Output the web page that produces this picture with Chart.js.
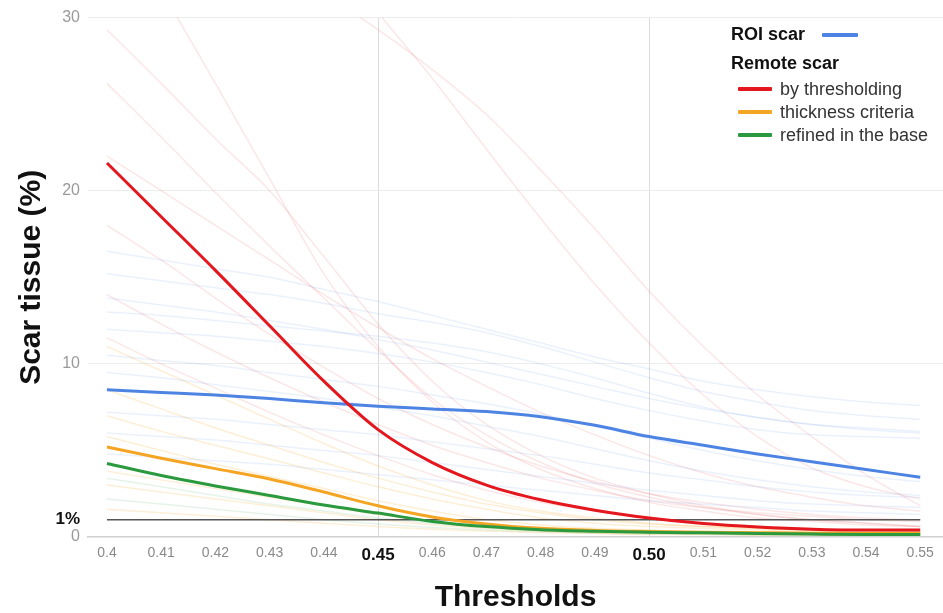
<!DOCTYPE html>
<html>
<head>
<meta charset="utf-8">
<script src="https://cdn.jsdelivr.net/npm/chart.js@4/dist/chart.umd.min.js"></script>
<style>
  html, body { margin: 0; padding: 0; background: #fff; }
  #wrap { position: relative; width: 943px; height: 613px; }
  #legend { position: absolute; left: 0; top: 0; width: 943px; height: 160px; pointer-events: none;
    font-family: "Liberation Sans", Arial, Helvetica, sans-serif; color: #222; }
  .lg { position: absolute; white-space: nowrap; line-height: 20px; height: 20px; }
  .hdr { font-weight: bold; font-size: 18px; color: #111; }
  .itm { font-size: 18px; color: #333; }
  .sw { position: absolute; height: 4px; border-radius: 1px; }
</style>
</head>
<body>
<div id="wrap">
  <canvas id="c" width="943" height="613"></canvas>
  <div id="legend"></div>
</div>
<script>
// ---------- data ----------
const thresholds = [0.40, 0.41, 0.42, 0.43, 0.44, 0.45, 0.46, 0.47, 0.48, 0.49, 0.50, 0.51, 0.52, 0.53, 0.54, 0.55];
const xTickLabels = ['0.4', '0.41', '0.42', '0.43', '0.44', '0.45', '0.46', '0.47', '0.48', '0.49', '0.50', '0.51', '0.52', '0.53', '0.54', '0.55'];
const yTickValues = [0, 1, 10, 20, 30];
const yTickLabels = ['0', '1%', '10', '20', '30'];

// mean curves
const roiScar        = [8.5, 8.35, 8.2, 8.0, 7.75, 7.55, 7.4, 7.25, 6.95, 6.45, 5.8, 5.3, 4.8, 4.35, 3.9, 3.45];
const byThresholding = [21.6, 18.5, 15.4, 12.2, 9.0, 6.2, 4.3, 3.0, 2.15, 1.55, 1.1, 0.78, 0.58, 0.45, 0.4, 0.4];
const thicknessCrit  = [5.2, 4.55, 3.95, 3.35, 2.6, 1.8, 1.15, 0.75, 0.5, 0.38, 0.32, 0.28, 0.25, 0.22, 0.2, 0.2];
const refinedBase    = [4.25, 3.55, 2.95, 2.4, 1.85, 1.38, 0.9, 0.6, 0.42, 0.33, 0.28, 0.24, 0.2, 0.17, 0.15, 0.15];
const onePercent     = [1, 1, 1, 1, 1, 1, 1, 1, 1, 1, 1, 1, 1, 1, 1, 1];

// individual (faint) curves
const patientsThresholding = [
  [29.3, 26.2, 23.0, 20.0, 16.2, 12.3, 9.0, 6.5, 4.7, 3.4, 2.5, 1.8, 1.3, 1.0, 0.8, 0.6],
  [26.2, 23.1, 19.9, 16.8, 13.8, 10.8, 8.0, 5.9, 4.3, 3.1, 2.3, 1.7, 1.3, 1.0, 0.8, 0.6],
  [37, 31.6, 26.2, 20.7, 15.2, 11.0, 7.8, 5.5, 3.9, 2.8, 2.0, 1.5, 1.1, 0.9, 0.7, 0.6],
  [56, 50, 44, 39, 34.5, 30.3, 26.5, 22.4, 18.4, 14.6, 11.2, 8.2, 5.8, 4.0, 2.9, 2.2],
  [40, 37.5, 35.5, 33.4, 31.4, 29.3, 27.0, 24.4, 21.2, 17.8, 14.2, 11.0, 8.2, 5.8, 3.6, 1.8],
  [18, 16, 13.8, 11.7, 9.8, 8.0, 6.5, 5.2, 4.1, 3.2, 2.5, 2.0, 1.6, 1.3, 1.1, 1.0],
  [14, 12.3, 10.7, 9.2, 7.8, 6.5, 5.3, 4.3, 3.4, 2.7, 2.1, 1.7, 1.4, 1.2, 1.0, 0.9],
  [11.5, 10, 8.6, 7.2, 5.9, 4.7, 3.6, 2.7, 2.0, 1.5, 1.1, 0.8, 0.6, 0.5, 0.4, 0.35],
  [22, 20, 18, 16, 14, 12.1, 10.3, 8.7, 7.2, 5.9, 4.7, 3.7, 2.9, 2.3, 1.8, 1.5]
];
const patientsRoi = [
  [16.5, 16.0, 15.5, 15.0, 14.3, 13.6, 12.8, 12.0, 11.2, 10.4, 9.7, 9.0, 8.5, 8.1, 7.8, 7.6],
  [15.2, 14.8, 14.4, 14.0, 13.5, 12.9, 12.4, 11.8, 11.0, 10.1, 9.2, 8.4, 7.8, 7.3, 7.0, 6.8],
  [13.8, 13.4, 13.0, 12.5, 12.0, 11.4, 10.8, 10.1, 9.4, 8.7, 8.0, 7.4, 6.9, 6.5, 6.2, 6.0],
  [13.0, 12.8, 12.5, 12.2, 11.9, 11.6, 11.2, 10.7, 10.0, 9.2, 8.3, 7.5, 6.9, 6.5, 6.3, 6.1],
  [12.0, 11.8, 11.6, 11.3, 11.0, 10.6, 10.1, 9.5, 8.8, 8.0, 7.3, 6.7, 6.2, 5.9, 5.8, 5.7],
  [10.5, 10.2, 9.9, 9.5, 9.1, 8.7, 8.2, 7.7, 7.1, 6.4, 5.7, 5.0, 4.4, 3.9, 3.5, 3.2],
  [9.5, 9.2, 8.8, 8.4, 8.0, 7.5, 7.0, 6.4, 5.8, 5.1, 4.4, 3.8, 3.3, 2.9, 2.6, 2.4],
  [7.2, 7.0, 6.8, 6.5, 6.2, 5.9, 5.5, 5.1, 4.7, 4.2, 3.7, 3.3, 2.9, 2.6, 2.4, 2.3],
  [6.0, 5.8, 5.6, 5.3, 5.0, 4.7, 4.3, 3.9, 3.5, 3.1, 2.7, 2.4, 2.1, 1.9, 1.8, 1.7],
  [4.8, 4.6, 4.4, 4.2, 3.9, 3.6, 3.3, 3.0, 2.7, 2.4, 2.1, 1.9, 1.7, 1.5, 1.4, 1.3]
];
const patientsThickness = [
  [11.0, 9.6, 8.2, 6.8, 5.4, 4.1, 3.0, 2.1, 1.5, 1.1, 0.8, 0.6, 0.5, 0.4, 0.35, 0.3],
  [8.5, 7.4, 6.3, 5.3, 4.3, 3.4, 2.6, 1.9, 1.4, 1.0, 0.75, 0.6, 0.5, 0.4, 0.35, 0.3],
  [7.0, 6.1, 5.3, 4.5, 3.7, 2.9, 2.2, 1.6, 1.1, 0.8, 0.6, 0.5, 0.4, 0.35, 0.3, 0.3],
  [5.8, 5.0, 4.2, 3.5, 2.8, 2.1, 1.5, 1.0, 0.7, 0.5, 0.4, 0.3, 0.25, 0.2, 0.2, 0.2],
  [3.8, 3.3, 2.8, 2.3, 1.8, 1.3, 0.9, 0.6, 0.4, 0.3, 0.25, 0.2, 0.2, 0.15, 0.15, 0.15],
  [3.0, 2.6, 2.2, 1.8, 1.4, 1.0, 0.7, 0.5, 0.35, 0.25, 0.2, 0.2, 0.15, 0.15, 0.1, 0.1],
  [1.6, 1.4, 1.2, 1.0, 0.8, 0.6, 0.45, 0.35, 0.25, 0.2, 0.15, 0.15, 0.1, 0.1, 0.1, 0.1]
];
const patientsRefined = [
  [3.4, 2.9, 2.4, 1.9, 1.5, 1.1, 0.8, 0.55, 0.4, 0.3, 0.25, 0.2, 0.15, 0.15, 0.1, 0.1],
  [2.2, 1.9, 1.6, 1.3, 1.0, 0.75, 0.55, 0.4, 0.3, 0.22, 0.18, 0.15, 0.12, 0.1, 0.1, 0.1]
];

// ---------- styling ----------
const COL = {
  roi: '#4d84e3', thr: '#e3171d', thick: '#f5a524', ref: '#2b9a3e',
  roiF: 'rgba(77,132,227,0.11)', thrF: 'rgba(225,60,60,0.12)',
  thickF: 'rgba(245,165,36,0.18)', refF: 'rgba(43,154,62,0.12)'
};
const FONT = '"Liberation Sans", Arial, Helvetica, sans-serif';

const pts = arr => arr.map((v, i) => ({ x: thresholds[i], y: v }));
const line = (label, data, color, width, order) => ({
  label, data: pts(data), borderColor: color, backgroundColor: color, borderWidth: width,
  pointRadius: 0, pointHoverRadius: 0, fill: false, cubicInterpolationMode: 'monotone', order
});

const datasets = [];
patientsRoi.forEach((d, i) => datasets.push(line('roi p' + i, d, COL.roiF, 1.5, 100)));
patientsThresholding.forEach((d, i) => datasets.push(line('thr p' + i, d, COL.thrF, 1.5, 100)));
patientsThickness.forEach((d, i) => datasets.push(line('thick p' + i, d, COL.thickF, 1.5, 100)));
patientsRefined.forEach((d, i) => datasets.push(line('ref p' + i, d, COL.refF, 1.5, 100)));
datasets.push(Object.assign(line('1%', onePercent, '#555', 1.5, 50), { cubicInterpolationMode: 'default', tension: 0 }));
datasets.push(line('ROI scar', roiScar, COL.roi, 3, 4));
datasets.push(line('by thresholding', byThresholding, COL.thr, 3, 3));
datasets.push(line('thickness criteria', thicknessCrit, COL.thick, 3, 2));
datasets.push(line('refined in the base', refinedBase, COL.ref, 3, 1));

new Chart(document.getElementById('c'), {
  type: 'line',
  data: { datasets },
  options: {
    responsive: false,
    animation: false,
    events: [],
    layout: { padding: { top: 14, right: 0, bottom: 0, left: 0 } },
    plugins: { legend: { display: false }, tooltip: { enabled: false }, title: { display: false } },
    scales: {
      x: {
        type: 'linear',
        min: 0.3965,
        max: 0.5542,
        afterBuildTicks: s => { s.ticks = thresholds.map(v => ({ value: v })); },
        afterFit: s => { s.height = 76; },
        ticks: {
          autoSkip: false, maxRotation: 0, padding: 8,
          callback: (v, i) => xTickLabels[i],
          color: c => (c.index === 5 || c.index === 10) ? '#111' : '#8a8a8a',
          font: c => (c.index === 5 || c.index === 10)
            ? { family: FONT, size: 17, weight: 'bold' }
            : { family: FONT, size: 14 }
        },
        grid: {
          drawTicks: false,
          color: c => (c.index === 5 || c.index === 10) ? '#dcdcdc' : 'rgba(0,0,0,0)',
          lineWidth: 1
        },
        border: { display: true, color: '#cfcfcf', width: 1.5 },
        title: {
          display: true, text: 'Thresholds', color: '#111',
          font: { family: FONT, size: 30, weight: 'bold', lineHeight: 1 },
          padding: { top: 0, bottom: 0 }
        }
      },
      y: {
        type: 'linear',
        min: 0,
        max: 30,
        afterBuildTicks: s => { s.ticks = yTickValues.map(v => ({ value: v })); },
        afterFit: s => { s.width = 88; },
        ticks: {
          padding: 8,
          callback: (v, i) => yTickLabels[i],
          color: c => c.index === 1 ? '#111' : '#9a9a9a',
          font: c => c.index === 1
            ? { family: FONT, size: 17, weight: 'bold' }
            : { family: FONT, size: 16 }
        },
        grid: {
          drawTicks: false,
          color: c => (c.index === 0 || c.index === 1) ? 'rgba(0,0,0,0)' : '#ececec',
          lineWidth: 1
        },
        border: { display: false },
        title: {
          display: true, text: 'Scar tissue (%)', color: '#111',
          font: { family: FONT, size: 30, weight: 'bold', lineHeight: 1 },
          padding: { top: 17, bottom: 0 }
        }
      }
    }
  }
});

// ---------- legend (HTML text) ----------
const legendHeaders = ['ROI scar', 'Remote scar'];
const legendItems = ['by thresholding', 'thickness criteria', 'refined in the base'];
const lg = document.getElementById('legend');
function addText(cls, text, left, cy) {
  const d = document.createElement('div');
  d.className = 'lg ' + cls; d.textContent = text;
  d.style.left = left + 'px'; d.style.top = (cy - 10) + 'px';
  lg.appendChild(d);
}
function addSwatch(color, left, width, cy) {
  const s = document.createElement('div');
  s.className = 'sw'; s.style.background = color;
  s.style.left = left + 'px'; s.style.width = width + 'px'; s.style.top = (cy - 2) + 'px';
  lg.appendChild(s);
}
addText('hdr', legendHeaders[0], 731, 34);
addSwatch(COL.roi, 822, 36, 35);
addText('hdr', legendHeaders[1], 731, 63);
[COL.thr, COL.thick, COL.ref].forEach((c, i) => {
  const cy = [89, 112, 135][i];
  addSwatch(c, 738, 34, cy);
  addText('itm', legendItems[i], 780, cy);
});
</script>
</body>
</html>
